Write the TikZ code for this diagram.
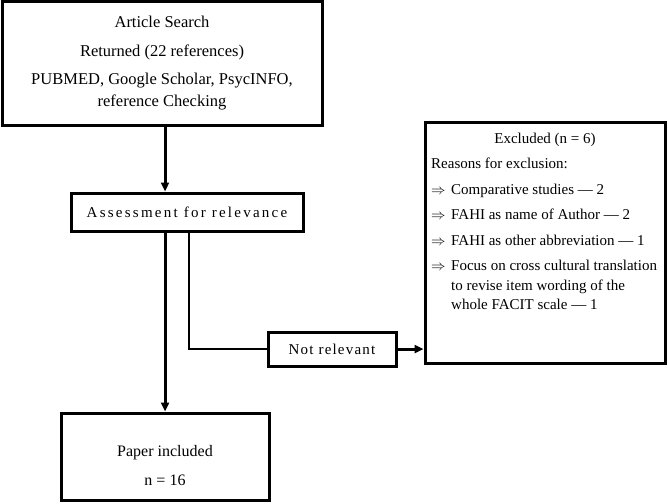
\documentclass[tikz,border=0pt]{standalone}
\usepackage{fontspec}
\setmainfont{Liberation Serif}
\newfontfamily\widefont{Liberation Serif}[LetterSpace=15]
\newfontfamily\halfwidefont{Liberation Serif}[LetterSpace=8]
\usetikzlibrary{arrows.meta,positioning}

\begin{document}
\begin{tikzpicture}[x=1pt, y=-1pt,
    box/.style={draw, line width=3pt, inner sep=0pt, align=center},
    arr/.style={-{Triangle[length=9pt,width=8pt]}, line width=3pt},
    link/.style={line width=1.5pt},
    listtext/.style={font=\fontsize{15}{19.5}\selectfont, align=left, inner sep=0pt}
  ]
    \useasboundingbox (0,0) rectangle (668,503);

    % Search stage
    \node[box, minimum width=320pt, minimum height=123pt,
          font=\fontsize{16.5}{22}\selectfont] (search) at (162,63.5)
      {Article Search\\[7pt]Returned (22 references)\\[6pt]PUBMED, Google Scholar, PsycINFO,\\reference Checking};

    % Screening
    \node[box, minimum width=232pt, minimum height=38pt,
          font=\fontsize{15}{18}\widefont] (assess) at (187,212)
      {Assessment for relevance};

    % Included papers
    \node[box, minimum width=208pt, minimum height=87pt,
          font=\fontsize{16}{20}\selectfont] (paper) at (165,456.5)
      {\rule{0pt}{30pt}Paper included\\[9pt]n = 16};

    % Not relevant branch
    \node[box, minimum width=128pt, minimum height=34pt,
          font=\fontsize{15}{18}\halfwidefont] (notrel) at (332,349)
      {Not relevant};

    % Excluded
    \node[box, minimum width=240pt, minimum height=241pt] (excl) at (545,242.5) {};
    \node[listtext] (exclhead) at ([yshift=-19pt]excl.north) {Excluded (n = 6)};
    \node[listtext, anchor=north west] (excllist) at (431,158)
      {Reasons for exclusion:\\[6pt]
       \makebox[20pt][l]{$\Rightarrow$}Comparative studies --- 2\\[6pt]
       \makebox[20pt][l]{$\Rightarrow$}FAHI as name of Author --- 2\\[6pt]
       \makebox[20pt][l]{$\Rightarrow$}FAHI as other abbreviation --- 1\\[6pt]
       \makebox[20pt][l]{$\Rightarrow$}Focus on cross cultural translation\\
       \hspace*{20pt}to revise item wording of the\\
       \hspace*{20pt}whole FACIT scale --- 1};

    % Connectors
    \draw[arr] (search.south -| paper.north) -- (assess.north -| paper.north);
    \draw[arr] (assess.south -| paper.north) -- (paper.north);
    \draw[link] ([xshift=2pt]assess.south) |- (notrel.west);
    \draw[arr] (notrel.east) -- (notrel.east -| excl.west);
  \end{tikzpicture}
\end{document}
